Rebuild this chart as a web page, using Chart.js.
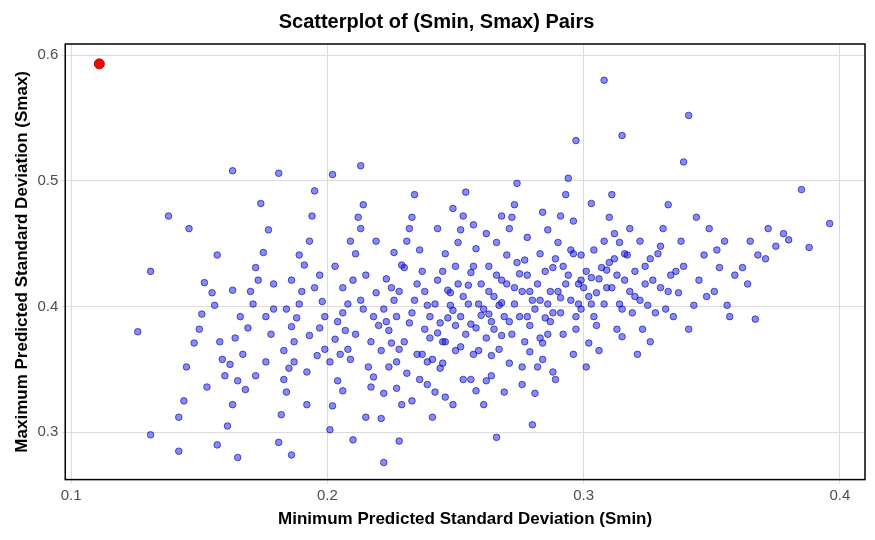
<!DOCTYPE html>
<html>
<head>
<meta charset="utf-8">
<script src="https://cdn.jsdelivr.net/npm/chart.js@4"></script>
<style>
  html, body { margin: 0; padding: 0; background: #fff; }
  #wrap { width: 875px; height: 540px; }
</style>
</head>
<body>
<div id="wrap"><canvas id="scatterChart"></canvas></div>
<script>
// values, [Smin, Smax]
let bluePairs = [
  [0.308,0.580],[0.341,0.552],[0.315,0.536],[0.297,0.532],[0.339,0.515],[0.385,0.493],[0.396,0.466],
  [0.163,0.508],[0.213,0.512],[0.202,0.505],[0.181,0.506],[0.138,0.472],[0.131,0.428],[0.126,0.380],
  [0.131,0.298],[0.142,0.285],[0.222,0.276],[0.266,0.296],[0.280,0.306],[0.157,0.290],[0.165,0.280],
  [0.186,0.282],[0.210,0.294],[0.228,0.293],[0.356,0.401],[0.367,0.390],[0.371,0.438],[0.380,0.453],
  [0.388,0.447],
  [0.142,0.312],[0.145,0.352],[0.148,0.371],[0.151,0.394],[0.153,0.336],[0.155,0.411],[0.157,0.441],
  [0.146,0.462],[0.159,0.358],[0.150,0.382],[0.156,0.401],[0.144,0.325],[0.158,0.372],[0.152,0.419],[0.160,0.345],
  [0.161,0.305],[0.163,0.322],[0.165,0.341],[0.167,0.362],[0.169,0.383],[0.171,0.402],[0.173,0.421],
  [0.175,0.443],[0.177,0.461],[0.162,0.354],[0.164,0.375],[0.166,0.392],[0.168,0.334],[0.170,0.412],
  [0.172,0.431],[0.174,0.482],[0.176,0.356],[0.178,0.378],[0.179,0.398],[0.163,0.413],
  [0.181,0.292],[0.182,0.314],[0.184,0.332],[0.185,0.351],[0.187,0.372],[0.188,0.391],[0.190,0.412],
  [0.191,0.433],[0.193,0.452],[0.194,0.472],[0.196,0.361],[0.197,0.383],[0.198,0.404],[0.183,0.342],
  [0.186,0.421],[0.189,0.441],[0.192,0.322],[0.195,0.492],[0.199,0.366],[0.184,0.398],[0.187,0.356],
  [0.193,0.377],[0.197,0.425],
  [0.201,0.302],[0.202,0.321],[0.204,0.341],[0.205,0.362],[0.207,0.381],[0.208,0.402],[0.210,0.421],
  [0.211,0.442],[0.213,0.462],[0.214,0.481],[0.216,0.352],[0.217,0.372],[0.218,0.392],[0.219,0.411],
  [0.203,0.432],[0.206,0.333],[0.209,0.452],[0.212,0.471],[0.215,0.312],[0.220,0.385],[0.203,0.374],
  [0.209,0.358],[0.214,0.398],[0.218,0.344],[0.206,0.415],
  [0.221,0.311],[0.222,0.331],[0.224,0.352],[0.225,0.371],[0.227,0.392],[0.228,0.412],[0.230,0.431],
  [0.231,0.452],[0.233,0.471],[0.234,0.489],[0.236,0.342],[0.237,0.362],[0.238,0.382],[0.239,0.401],
  [0.223,0.422],[0.226,0.443],[0.229,0.322],[0.232,0.462],[0.235,0.418],[0.240,0.375],[0.223,0.388],
  [0.228,0.366],[0.233,0.395],[0.237,0.428],[0.226,0.405],[0.231,0.347],[0.239,0.356],
  [0.241,0.312],[0.242,0.332],[0.244,0.351],[0.245,0.372],[0.247,0.391],[0.248,0.411],[0.250,0.432],
  [0.251,0.451],[0.253,0.472],[0.254,0.491],[0.256,0.342],[0.257,0.362],[0.258,0.383],[0.259,0.402],
  [0.243,0.421],[0.246,0.442],[0.249,0.322],[0.252,0.461],[0.255,0.417],[0.260,0.393],[0.243,0.379],
  [0.248,0.401],[0.252,0.368],[0.256,0.427],[0.245,0.355],[0.250,0.385],[0.258,0.446],[0.253,0.408],
  [0.261,0.322],[0.262,0.341],[0.264,0.361],[0.265,0.382],[0.267,0.401],[0.268,0.421],[0.270,0.441],
  [0.271,0.462],[0.273,0.481],[0.274,0.498],[0.276,0.352],[0.277,0.372],[0.278,0.392],[0.279,0.412],
  [0.263,0.432],[0.266,0.451],[0.269,0.332],[0.272,0.471],[0.275,0.426],[0.280,0.405],[0.263,0.394],
  [0.268,0.377],[0.273,0.415],[0.277,0.437],[0.265,0.408],[0.271,0.388],[0.279,0.364],
  [0.281,0.331],[0.282,0.352],[0.284,0.371],[0.285,0.391],[0.287,0.412],[0.288,0.431],[0.290,0.451],
  [0.291,0.472],[0.293,0.489],[0.294,0.502],[0.296,0.362],[0.297,0.382],[0.298,0.402],[0.299,0.421],
  [0.283,0.442],[0.286,0.461],[0.289,0.342],[0.292,0.432],[0.295,0.445],[0.300,0.415],[0.283,0.405],
  [0.288,0.395],[0.293,0.418],[0.297,0.392],[0.286,0.378],[0.291,0.407],[0.299,0.441],
  [0.301,0.352],[0.302,0.371],[0.304,0.392],[0.305,0.411],[0.307,0.431],[0.308,0.452],[0.310,0.471],
  [0.311,0.489],[0.313,0.382],[0.314,0.402],[0.316,0.421],[0.317,0.441],[0.318,0.462],[0.319,0.395],
  [0.303,0.423],[0.306,0.365],[0.309,0.415],[0.312,0.438],[0.315,0.376],[0.320,0.408],[0.303,0.402],
  [0.309,0.429],[0.314,0.451],
  [0.321,0.362],[0.323,0.382],[0.325,0.401],[0.327,0.421],[0.329,0.442],[0.331,0.462],[0.333,0.481],
  [0.335,0.392],[0.337,0.411],[0.339,0.432],[0.322,0.452],[0.326,0.372],[0.330,0.415],[0.334,0.425],
  [0.338,0.452],[0.324,0.432],[0.332,0.398],
  [0.341,0.382],[0.343,0.401],[0.345,0.421],[0.347,0.441],[0.349,0.462],[0.351,0.412],[0.353,0.431],
  [0.355,0.452],[0.357,0.392],[0.359,0.425],[0.344,0.471],[0.348,0.408],[0.352,0.445],
  [0.362,0.431],[0.365,0.452],[0.368,0.441],[0.372,0.462],[0.375,0.448],[0.378,0.458],[0.364,0.418],
  // denser middle of the cloud
  [0.172,0.345],[0.176,0.392],[0.179,0.418],[0.183,0.365],[0.186,0.384],[0.189,0.402],[0.192,0.348],
  [0.195,0.415],[0.199,0.392],[0.201,0.356],[0.204,0.388],[0.206,0.395],[0.208,0.366],[0.211,0.378],
  [0.213,0.405],[0.215,0.425],[0.217,0.336],[0.219,0.452],[0.221,0.365],[0.222,0.398],[0.224,0.381],
  [0.225,0.415],[0.227,0.356],[0.229,0.433],[0.230,0.372],[0.232,0.387],[0.234,0.405],[0.235,0.362],
  [0.236,0.445],[0.238,0.412],[0.240,0.392],[0.241,0.358],[0.242,0.402],[0.244,0.387],[0.245,0.428],
  [0.246,0.372],[0.247,0.413],[0.249,0.397],[0.250,0.365],[0.251,0.418],[0.252,0.392],[0.254,0.378],
  [0.255,0.402],[0.256,0.386],[0.257,0.432],[0.259,0.365],[0.260,0.418],[0.261,0.398],[0.262,0.375],
  [0.263,0.412],[0.264,0.388],[0.266,0.425],[0.267,0.366],[0.268,0.403],[0.269,0.392],[0.270,0.418],
  [0.272,0.378],[0.273,0.402],[0.274,0.435],[0.275,0.392],[0.276,0.412],[0.278,0.425],[0.279,0.385],
  [0.281,0.398],[0.282,0.418],[0.283,0.375],[0.285,0.428],[0.286,0.402],[0.287,0.388],[0.289,0.438],
  [0.290,0.412],[0.291,0.395],[0.292,0.378],[0.294,0.425],[0.295,0.405],[0.296,0.442],[0.298,0.418],
  [0.299,0.398],[0.301,0.428],[0.302,0.408],[0.304,0.445],[0.305,0.385],[0.306,0.422],[0.308,0.402],
  [0.310,0.435],[0.311,0.415],[0.313,0.425],[0.315,0.398],[0.316,0.442],[0.318,0.412],[0.320,0.428],
  [0.322,0.405],[0.324,0.418],[0.326,0.438],[0.328,0.395],[0.330,0.448],[0.333,0.412],[0.336,0.428],
  [0.227,0.335],[0.233,0.325],[0.239,0.338],[0.246,0.328],[0.253,0.342],[0.258,0.333],[0.264,0.345],
  [0.271,0.355],[0.276,0.338],[0.284,0.358],[0.288,0.348],[0.243,0.462],[0.249,0.478],[0.257,0.465],
  [0.262,0.458],[0.268,0.472],[0.278,0.455],[0.284,0.475],[0.296,0.468],[0.303,0.482],[0.312,0.458],
];

let highlightSmin = [0.111];
let highlightSmax = [0.593];

let xTicks = [0.1, 0.2, 0.3, 0.4];
let yTicks = [0.3, 0.4, 0.5, 0.6];

let panelBorder = {
  id: 'panelBorder',
  afterDraw: (chart) => {
    let { ctx, chartArea } = chart;
    ctx.save();
    ctx.strokeStyle = '#000';
    ctx.lineWidth = 1.5;
    ctx.strokeRect(chartArea.left, chartArea.top, chartArea.right - chartArea.left, chartArea.bottom - chartArea.top);
    ctx.restore();
  },
};

let ctx = document.getElementById('scatterChart').getContext('2d');

new Chart(ctx, {
  type: 'scatter',
  data: {
    datasets: [
      {
        label: 'pairs',
        data: bluePairs.map((p) => ({ x: p[0], y: p[1] })),
        backgroundColor: 'rgba(20, 20, 255, 0.5)',
        borderColor: 'rgba(0, 0, 120, 0.75)',
        borderWidth: 0.8,
        pointRadius: 3.3,
      },
      {
        label: 'highlight',
        data: highlightSmin.map((x, i) => ({ x: x, y: highlightSmax[i] })),
        backgroundColor: 'rgb(255, 0, 0)',
        borderColor: 'rgb(200, 0, 0)',
        borderWidth: 1,
        pointRadius: 5,
      },
    ],
  },
  options: {
    responsive: true,
    maintainAspectRatio: false,
    animation: false,
    layout: { padding: { left: 8, right: 10, top: 4, bottom: 6 } },
    plugins: {
      legend: { display: false },
      tooltip: { enabled: false },
      title: {
        display: true,
        text: 'Scatterplot of (Smin, Smax) Pairs',
        color: '#000',
        font: { family: 'Liberation Sans', size: 20, weight: 'bold' },
        padding: { top: 6, bottom: 10 },
      },
    },
    scales: {
      x: {
        type: 'linear',
        min: 0.0977,
        max: 0.4098,
        afterBuildTicks: (axis) => { axis.ticks = xTicks.map((v) => ({ value: v })); },
        ticks: {
          color: '#4d4d4d',
          font: { family: 'Liberation Sans', size: 15 },
          callback: (v) => String(v),
        },
        grid: { color: '#dcdcdc', drawTicks: true, tickLength: 4 },
        border: { display: false },
        title: {
          display: true,
          text: 'Minimum Predicted Standard Deviation (Smin)',
          color: '#000',
          font: { family: 'Liberation Sans', size: 17, weight: 'bold' },
          padding: { top: 2 },
        },
      },
      y: {
        type: 'linear',
        min: 0.2624,
        max: 0.6088,
        afterBuildTicks: (axis) => { axis.ticks = yTicks.map((v) => ({ value: v })); },
        ticks: {
          color: '#4d4d4d',
          font: { family: 'Liberation Sans', size: 15 },
          callback: (v) => String(v),
        },
        grid: { color: '#dcdcdc', drawTicks: true, tickLength: 4 },
        border: { display: false },
        title: {
          display: true,
          text: 'Maximum Predicted Standard Deviation (Smax)',
          color: '#000',
          font: { family: 'Liberation Sans', size: 17, weight: 'bold' },
          padding: { bottom: 2 },
        },
      },
    },
  },
  plugins: [panelBorder],
});
</script>
</body>
</html>
